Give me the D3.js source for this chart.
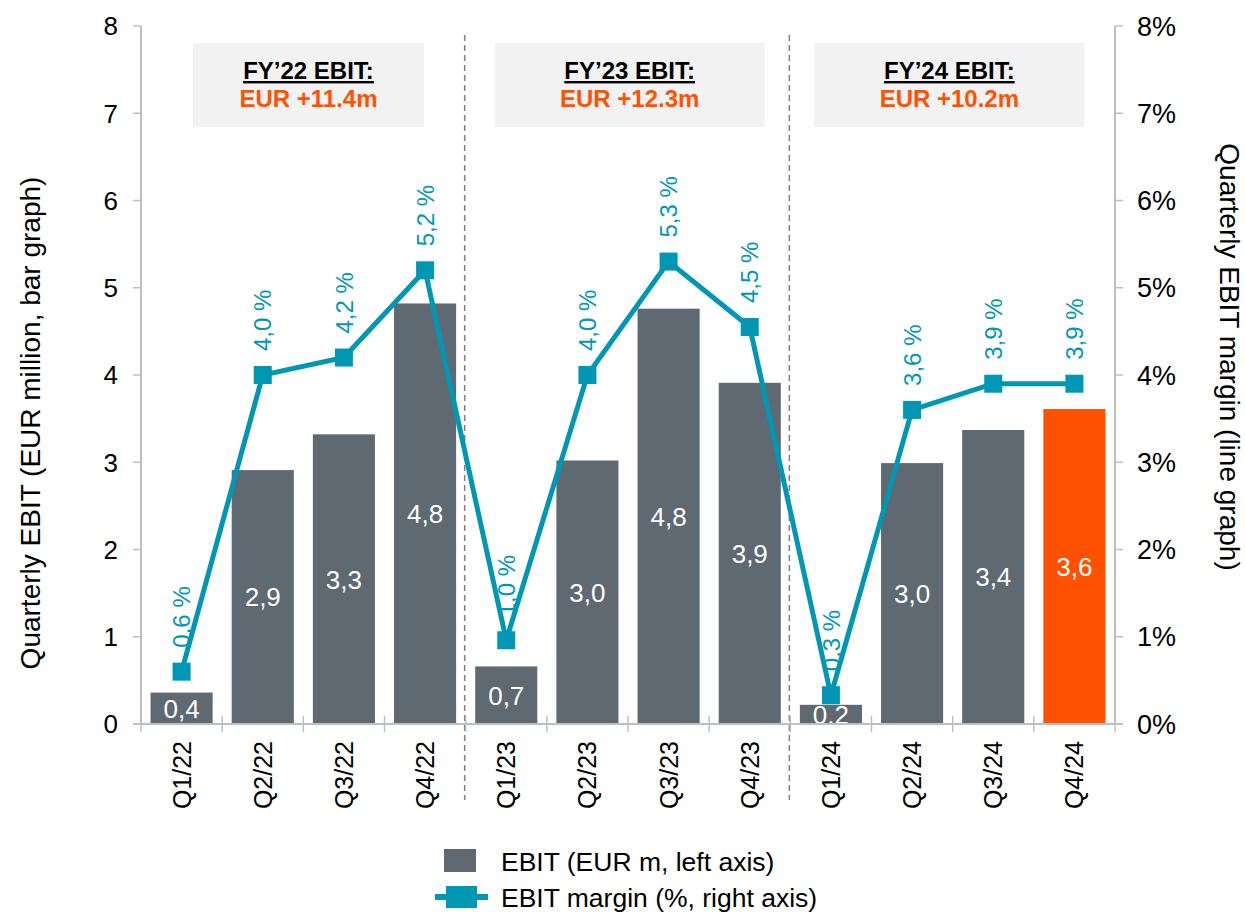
<!DOCTYPE html>
<html>
<head>
<meta charset="utf-8">
<script src="https://cdn.jsdelivr.net/npm/d3@7"></script>
<style>
  body { margin: 0; background: #fff; }
  text { font-family: Arial, "Liberation Sans", sans-serif; }
</style>
</head>
<body>
<div id="chart"></div>
<script>
// data
const quarters = ['Q1/22','Q2/22','Q3/22','Q4/22','Q1/23','Q2/23','Q3/23','Q4/23','Q1/24','Q2/24','Q3/24','Q4/24'];
const ebit = [0.36, 2.91, 3.32, 4.82, 0.66, 3.02, 4.76, 3.91, 0.22, 2.99, 3.37, 3.61];
const ebitLabels = ['0,4','2,9','3,3','4,8','0,7','3,0','4,8','3,9','0,2','3,0','3,4','3,6'];
const margin = [0.6, 4.0, 4.2, 5.2, 0.96, 4.0, 5.3, 4.55, 0.33, 3.6, 3.9, 3.9];
const marginLabels = ['0,6 %','4,0 %','4,2 %','5,2 %','1,0 %','4,0 %','5,3 %','4,5 %','0,3 %','3,6 %','3,9 %','3,9 %'];
const leftTicks = [0,1,2,3,4,5,6,7,8];
const rightTicks = ['0%','1%','2%','3%','4%','5%','6%','7%','8%'];
const fyTitles = ['FY\u201922 EBIT:', 'FY\u201923 EBIT:', 'FY\u201924 EBIT:'];
const fyValues = ['EUR +11.4m', 'EUR +12.3m', 'EUR +10.2m'];
const fyFirst = ['Q1/22', 'Q1/23', 'Q1/24'];

var width = 1245, height = 912;
var plotL = 141, plotR = 1115, plotT = 26, plotB = 724;

var grey = '#5e6971', orange = '#ff5100', teal = '#0097b5', axisCol = '#bcc0c3';

var svg = d3.select('#chart').append('svg')
  .attr('width', width)
  .attr('height', height);

var x = d3.scaleBand()
  .domain(quarters)
  .range([plotL, plotR])
  .paddingInner(0.235)
  .paddingOuter(0.1175);

var step = x.step();
// left edge of the band a quarter sits in
function bandStart(q) { return x(q) - step * 0.1175; }

var y = d3.scaleLinear().domain([0, 8]).range([plotB, plotT]);
var y2 = d3.scaleLinear().domain([0, 8]).range([plotB, plotT]);

// FY annotation boxes
var boxOffsets = [52, 29, 24], boxWidths = [231, 270, 270];
fyTitles.forEach(function(t, i) {
  var bx = bandStart(fyFirst[i]) + boxOffsets[i];
  svg.append('rect')
    .attr('x', bx).attr('y', 43)
    .attr('width', boxWidths[i]).attr('height', 84)
    .attr('fill', '#f2f2f2');
  svg.append('text')
    .attr('x', bx + boxWidths[i] / 2).attr('y', 79)
    .attr('text-anchor', 'middle')
    .style('font-size', '24px').style('font-weight', 'bold')
    .style('text-decoration', 'underline')
    .attr('fill', '#000')
    .text(t);
  svg.append('text')
    .attr('x', bx + boxWidths[i] / 2).attr('y', 107)
    .attr('text-anchor', 'middle')
    .style('font-size', '24px').style('font-weight', 'bold')
    .attr('fill', orange)
    .text(fyValues[i]);
});

// dashed year separators
fyFirst.slice(1).forEach(function(q) {
  var sx = bandStart(q) - 1;
  svg.append('line')
    .attr('x1', sx).attr('x2', sx)
    .attr('y1', 35).attr('y2', 800)
    .attr('stroke', '#7f7f7f')
    .attr('stroke-width', 1.5)
    .attr('stroke-dasharray', '6,4');
});

// bars
svg.selectAll('rect.bar')
  .data(ebit)
  .enter().append('rect')
  .attr('class', 'bar')
  .attr('x', function(d, i) { return x(quarters[i]); })
  .attr('y', function(d) { return y(d); })
  .attr('width', x.bandwidth())
  .attr('height', function(d) { return y(0) - y(d); })
  .attr('fill', function(d, i) { return i === quarters.length - 1 ? orange : grey; });

svg.selectAll('text.barlab')
  .data(ebit)
  .enter().append('text')
  .attr('class', 'barlab')
  .attr('x', function(d, i) { return x(quarters[i]) + x.bandwidth() / 2; })
  .attr('y', function(d) { return (y(d) + y(0)) / 2; })
  .attr('dy', '0.36em')
  .attr('text-anchor', 'middle')
  .attr('fill', '#fff')
  .style('font-size', '26px')
  .text(function(d, i) { return ebitLabels[i]; });

// axes
svg.append('line')
  .attr('x1', plotL).attr('x2', plotL).attr('y1', plotT).attr('y2', plotB)
  .attr('stroke', axisCol).attr('stroke-width', 2);
svg.append('line')
  .attr('x1', plotR).attr('x2', plotR).attr('y1', plotT).attr('y2', plotB)
  .attr('stroke', axisCol).attr('stroke-width', 2);
svg.append('line')
  .attr('x1', plotL - 8).attr('x2', plotR + 8).attr('y1', plotB).attr('y2', plotB)
  .attr('stroke', axisCol).attr('stroke-width', 2);

leftTicks.forEach(function(t, i) {
  svg.append('line')
    .attr('x1', plotL - 8).attr('x2', plotL).attr('y1', y(t)).attr('y2', y(t))
    .attr('stroke', axisCol).attr('stroke-width', 1.5);
  svg.append('text')
    .attr('x', 118).attr('y', y(t)).attr('dy', '0.36em')
    .attr('text-anchor', 'end')
    .style('font-size', '26px')
    .text(t);
  svg.append('line')
    .attr('x1', plotR).attr('x2', plotR + 8).attr('y1', y2(i)).attr('y2', y2(i))
    .attr('stroke', axisCol).attr('stroke-width', 1.5);
  svg.append('text')
    .attr('x', 1137).attr('y', y2(i)).attr('dy', '0.36em')
    .style('font-size', '27px')
    .text(rightTicks[i]);
});

quarters.concat(['end']).forEach(function(q, i) {
  var tx = plotL + i * step;
  svg.append('line')
    .attr('x1', tx).attr('x2', tx).attr('y1', plotB - 8).attr('y2', plotB + 8)
    .attr('stroke', axisCol).attr('stroke-width', 1.5);
});

svg.selectAll('text.cat')
  .data(quarters)
  .enter().append('text')
  .attr('class', 'cat')
  .attr('transform', function(d) {
    return 'translate(' + (x(d) + x.bandwidth() / 2) + ',741) rotate(-90)';
  })
  .attr('dy', '0.36em')
  .attr('text-anchor', 'end')
  .style('font-size', '25px')
  .text(function(d) { return d; });

// axis titles
svg.append('text')
  .attr('transform', 'translate(30,423) rotate(-90)')
  .attr('dy', '0.36em')
  .attr('text-anchor', 'middle')
  .style('font-size', '28px')
  .text('Quarterly EBIT (EUR million, bar graph)');
svg.append('text')
  .attr('transform', 'translate(1230,357) rotate(90)')
  .attr('dy', '0.36em')
  .attr('text-anchor', 'middle')
  .style('font-size', '28px')
  .text('Quarterly EBIT margin (line graph)');

// margin line
var line = d3.line()
  .x(function(d, i) { return x(quarters[i]) + x.bandwidth() / 2; })
  .y(function(d) { return y2(d); });

svg.append('path')
  .datum(margin)
  .attr('d', line)
  .attr('fill', 'none')
  .attr('stroke', teal)
  .attr('stroke-width', 5);

svg.selectAll('rect.mark')
  .data(margin)
  .enter().append('rect')
  .attr('class', 'mark')
  .attr('x', function(d, i) { return x(quarters[i]) + x.bandwidth() / 2 - 9; })
  .attr('y', function(d) { return y2(d) - 9; })
  .attr('width', 18).attr('height', 18)
  .attr('fill', teal);

svg.selectAll('text.mlab')
  .data(margin)
  .enter().append('text')
  .attr('class', 'mlab')
  .attr('transform', function(d, i) {
    return 'translate(' + (x(quarters[i]) + x.bandwidth() / 2) + ',' + (y2(d) - 24) + ') rotate(-90)';
  })
  .attr('dy', '0.36em')
  .attr('fill', teal)
  .style('font-size', '24px')
  .text(function(d, i) { return marginLabels[i]; });

// legend
svg.append('rect')
  .attr('x', 444).attr('y', 849).attr('width', 32).attr('height', 23)
  .attr('fill', grey);
svg.append('text')
  .attr('x', 501).attr('y', 861).attr('dy', '0.36em')
  .style('font-size', '26.5px')
  .text('EBIT (EUR m, left axis)');
svg.append('line')
  .attr('x1', 435).attr('x2', 488).attr('y1', 897).attr('y2', 897)
  .attr('stroke', teal).attr('stroke-width', 6);
svg.append('rect')
  .attr('x', 446).attr('y', 886).attr('width', 31).attr('height', 22)
  .attr('fill', teal);
svg.append('text')
  .attr('x', 501).attr('y', 897).attr('dy', '0.36em')
  .style('font-size', '26.5px')
  .text('EBIT margin (%, right axis)');
</script>
</body>
</html>
